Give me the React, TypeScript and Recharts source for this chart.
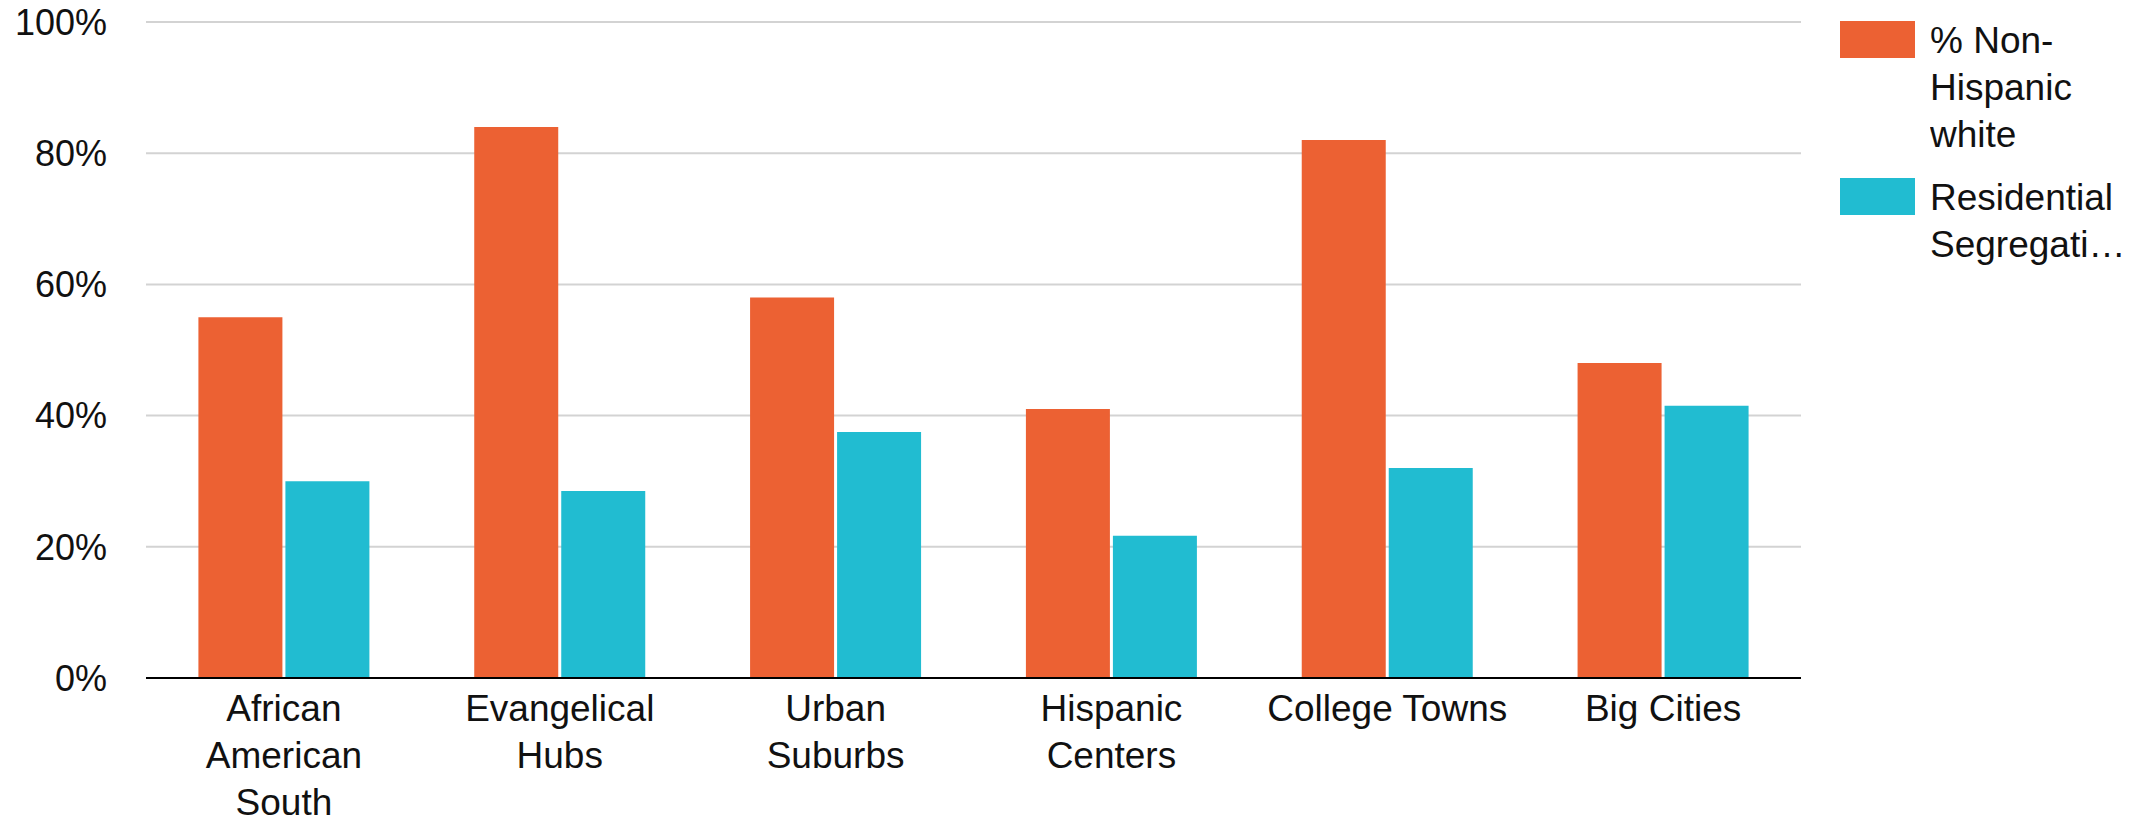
import React from "react";
import { Bar, BarChart, CartesianGrid, Legend, XAxis, YAxis } from "recharts";

const FONT = '"Liberation Sans", Arial, Helvetica, sans-serif';

const categories = [
  "African American South",
  "Evangelical Hubs",
  "Urban Suburbs",
  "Hispanic Centers",
  "College Towns",
  "Big Cities",
];
const nonHispanicWhite = [55, 84, 58, 41, 82, 48];
const residentialSegregation = [30, 28.5, 37.5, 21.7, 32, 41.5];
const yTicks = [0, 20, 40, 60, 80, 100];

const data = categories.map((name, i) => ({
  name,
  white: nonHispanicWhite[i],
  segregation: residentialSegregation[i],
}));

const LABEL_SIZE = 37;
const LABEL_LINE = 47;
const LABEL_MAX_WIDTH = 246.5;

let measureCtx: CanvasRenderingContext2D | null = null;

// greedy word wrap, measured with the same font as the svg text
function wrapLabel(text: string, maxWidth: number): string[] {
  if (!measureCtx) measureCtx = document.createElement("canvas").getContext("2d");
  const ctx = measureCtx!;
  ctx.font = `${LABEL_SIZE}px ${FONT}`;
  const lines: string[] = [];
  let line = "";
  for (const word of text.split(" ")) {
    const candidate = line ? `${line} ${word}` : word;
    if (line && ctx.measureText(candidate).width > maxWidth) {
      lines.push(line);
      line = word;
    } else {
      line = candidate;
    }
  }
  if (line) lines.push(line);
  return lines;
}

function CategoryTick(props: any) {
  const { x, y, payload } = props;
  const lines = wrapLabel(String(payload.value), LABEL_MAX_WIDTH);
  return (
    <text
      x={x}
      y={y}
      textAnchor="middle"
      fill="#111"
      fontSize={LABEL_SIZE}
      fontFamily={FONT}
    >
      {lines.map((line, i) => (
        <tspan key={i} x={x} dy={i === 0 ? "0.71em" : LABEL_LINE}>
          {line}
        </tspan>
      ))}
    </text>
  );
}

function SeriesLegend(props: any) {
  const { payload = [] } = props;
  return (
    <div style={{ fontSize: LABEL_SIZE, lineHeight: "47px", color: "#111", fontFamily: FONT }}>
      {payload.map((entry: any) => (
        <div key={entry.value} style={{ display: "flex", alignItems: "flex-start", marginBottom: 16 }}>
          <span
            style={{ width: 75, height: 37, marginTop: 4, background: entry.color, flexShrink: 0 }}
          />
          <span
            style={{
              marginLeft: 15,
              width: 197,
              overflow: "hidden",
              textOverflow: "ellipsis",
            }}
          >
            {entry.value}
          </span>
        </div>
      ))}
    </div>
  );
}

export default function App() {
  return (
    <div style={{ position: "absolute", left: 0, top: 0, fontFamily: FONT }}>
      <BarChart
        width={2151}
        height={823}
        data={data}
        margin={{ top: 22, right: 350, bottom: 0, left: 0 }}
        barCategoryGap="19%"
        barGap={3}
      >
        <CartesianGrid vertical={false} stroke="#d3d3d3" strokeWidth={2} />
        <XAxis
          dataKey="name"
          height={145}
          tickLine={false}
          tickSize={0}
          tickMargin={17}
          axisLine={{ stroke: "#000", strokeWidth: 2 }}
          tick={<CategoryTick />}
          interval={0}
        />
        <YAxis
          width={146}
          domain={[0, 100]}
          ticks={yTicks}
          tickFormatter={(v) => `${v}%`}
          axisLine={false}
          tickLine={false}
          tickSize={0}
          tickMargin={39}
          tick={{ fontSize: 36, fill: "#111", fontFamily: FONT }}
        />
        <Legend
          layout="vertical"
          align="center"
          verticalAlign="middle"
          content={<SeriesLegend />}
          wrapperStyle={{ left: 1840, top: 17, width: 300 }}
        />
        <Bar dataKey="white" name="% Non-Hispanic white" fill="#EC6133" isAnimationActive={false} />
        <Bar
          dataKey="segregation"
          name="Residential Segregation"
          fill="#21BCD1"
          isAnimationActive={false}
        />
      </BarChart>
    </div>
  );
}
